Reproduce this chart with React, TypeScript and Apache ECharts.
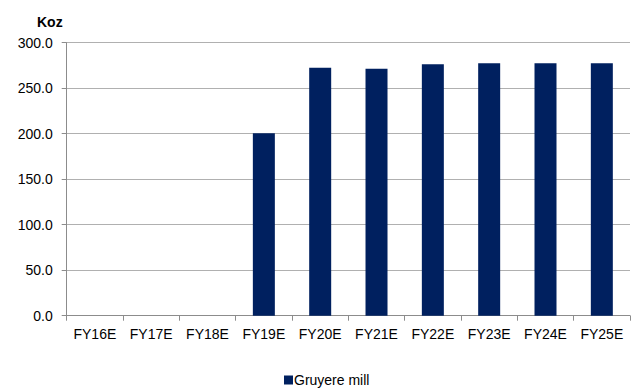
import React, { useEffect, useRef } from "react";
import * as echarts from "echarts";

const categories = ["FY16E", "FY17E", "FY18E", "FY19E", "FY20E", "FY21E", "FY22E", "FY23E", "FY24E", "FY25E"];
const gruyereMill = [0, 0, 0, 200.5, 272.5, 271.4, 276.3, 277.4, 277.4, 277.4];
const yTicks = { min: 0, max: 300, interval: 50 };
const unitLabel = "Koz";
const seriesName = "Gruyere mill";

export default function App() {
  const ref = useRef<HTMLDivElement>(null);
  useEffect(() => {
    if (!ref.current) return;
    const chart = echarts.init(ref.current, null, { renderer: "svg" });
    const font = "'Liberation Sans', Arial, sans-serif";
    chart.setOption({
      animation: false,
      backgroundColor: "#ffffff",
      textStyle: { fontFamily: font },
      grid: { left: 66.7, right: 2, top: 42.7, bottom: 76.3, containLabel: false },
      graphic: [
        {
          type: "text",
          x: 37,
          y: 21.7,
          style: {
            text: unitLabel,
            font: "bold 14px " + font,
            fill: "#000",
            verticalAlign: "middle",
          },
        },
      ],
      legend: {
        data: [seriesName],
        left: 284,
        top: 373,
        padding: 0,
        icon: "rect",
        itemWidth: 9,
        itemHeight: 9,
        textStyle: { fontSize: 14, color: "#000", fontFamily: font, padding: [0, 0, 0, -4] },
      },
      xAxis: {
        type: "category",
        data: categories,
        boundaryGap: true,
        axisLine: { show: true, lineStyle: { color: "#8c8c8c", width: 1 } },
        axisTick: { show: true, length: 5, alignWithLabel: false, lineStyle: { color: "#8c8c8c" } },
        axisLabel: { color: "#000", fontSize: 14, margin: 11, interval: 0, fontFamily: font },
        splitLine: { show: false },
      },
      yAxis: {
        type: "value",
        min: yTicks.min,
        max: yTicks.max,
        interval: yTicks.interval,
        axisLine: { show: true, lineStyle: { color: "#8c8c8c", width: 1 } },
        axisTick: { show: true, length: 5, lineStyle: { color: "#8c8c8c" } },
        axisLabel: {
          color: "#000",
          fontSize: 14,
          margin: 14,
          fontFamily: font,
          formatter: (v: number) => v.toFixed(1),
        },
        splitLine: { show: true, lineStyle: { color: "#b0b0b0", width: 1 } },
      },
      series: [
        {
          name: seriesName,
          type: "bar",
          data: gruyereMill,
          barWidth: 22,
          itemStyle: { color: "#00205F" },
        },
      ],
    });
    return () => chart.dispose();
  }, []);
  return (
    <div
      ref={ref}
      style={{ position: "fixed", left: 0, top: 0, width: 632, height: 392 }}
    />
  );
}
